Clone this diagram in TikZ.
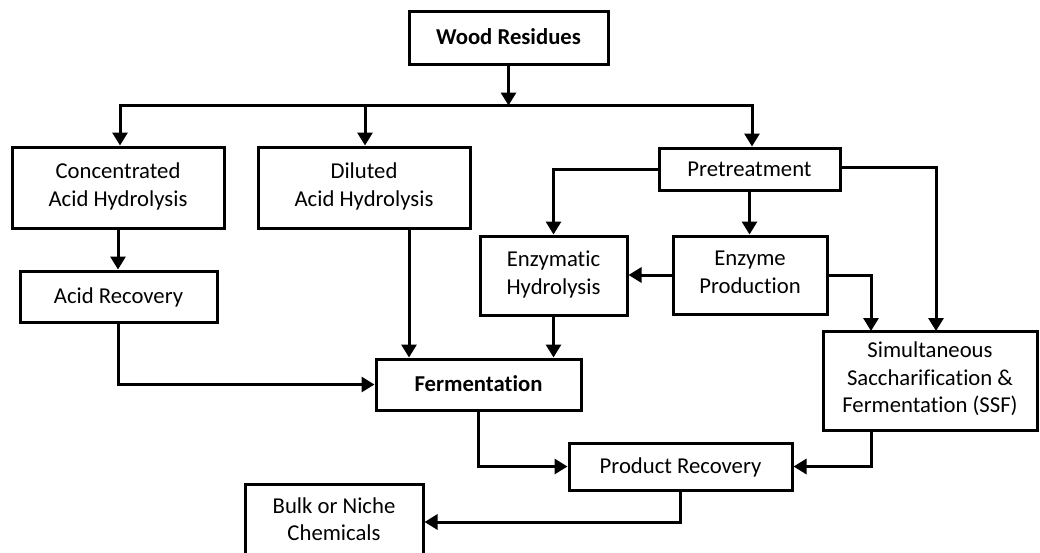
\documentclass[tikz,border=0pt]{standalone}
\usepackage{fontspec}
\setmainfont{Carlito}[Ligatures=NoCommon]
\usetikzlibrary{arrows.meta}
\newcommand{\toprule}{\rule{0pt}{20.5pt}}
\newcommand{\botrule}{\rule[-6pt]{0pt}{6pt}}
\tikzset{
  box/.style={draw, line width=3pt, rectangle, inner sep=0pt, align=center,
    font=\fontsize{22.7}{27.5}\selectfont,
    execute at begin node=\toprule, execute at end node=\botrule},
  boldbox/.style={box, font=\fontsize{22.7}{27.5}\selectfont\bfseries},
  arr/.style={line width=3pt, -{Triangle[length=13pt,width=15pt]}},
  bus/.style={line width=3pt}
}
\begin{document}
\begin{tikzpicture}[x=1pt,y=-1pt]
\useasboundingbox (0,0) rectangle (1040,552);

% process boxes
\node[boldbox, minimum width=199pt, minimum height=53pt] (wood) at (508.5,37.5) {Wood Residues};
\node[box, minimum width=212pt, minimum height=81pt] (conc) at (118,187.5) {Concentrated\\Acid Hydrolysis};
\node[box, minimum width=212pt, minimum height=81pt] (dil) at (364,187.5) {Diluted\\Acid Hydrolysis};
\node[box, minimum width=181pt, minimum height=42pt] (pre) at (749.5,169) {Pretreatment};
\node[box, minimum width=197pt, minimum height=51pt] (acid) at (118.5,296.5) {Acid Recovery};
\node[box, minimum width=147pt, minimum height=79pt] (enzh) at (553.5,275.5) {Enzymatic\\Hydrolysis};
\node[box, minimum width=154pt, minimum height=78pt] (enzp) at (750,275) {Enzyme\\Production};
\node[box, minimum width=214pt, minimum height=99pt] (ssf) at (930,380.5) {Simultaneous\\Saccharification \&\\Fermentation (SSF)};
\node[boldbox, minimum width=205pt, minimum height=51pt] (ferm) at (478.5,384.5) {Fermentation};
\node[box, minimum width=223pt, minimum height=47pt] (prod) at (680.5,466.5) {Product Recovery};
\node[box, minimum width=178pt, minimum height=76pt] (bulk) at (334,522) {Bulk or Niche\\Chemicals};

% distribution bus below the feedstock
\coordinate (busL) at (120,105.5);
\coordinate (busR) at (752,105.5);
\coordinate (busM) at (508.5,105.5);
\coordinate (busD) at (365,105.5);
\draw[bus] ([xshift=-1.5pt]busL) -- ([xshift=1.5pt]busR);
\draw[arr] (wood.south) -- (busM);
\draw[arr] (busL) -- (busL |- conc.north);
\draw[arr] (busD) -- (busD |- dil.north);
\draw[arr] (busR) -- (busR |- pre.north);

% acid routes
\draw[arr] (conc.south) -- (conc.south |- acid.north);
\draw[arr] (acid.south) |- (ferm.west);
\coordinate (dilout) at (409,228);
\draw[arr] (dilout) -- (dilout |- ferm.north);

% enzymatic route
\draw[arr] (pre.west) -| (enzh.north);
\draw[arr] (pre.south) -- (pre.south |- enzp.north);
\draw[arr] (enzp.west) -- (enzp.west -| enzh.east);
\coordinate (ssfinA) at (871,331);
\coordinate (ssfinB) at (936,331);
\draw[arr] (enzp.east) -| (ssfinA);
\coordinate (preout) at (840,167);
\draw[arr] (preout) -| (ssfinB);
\draw[arr] (enzh.south) -- (enzh.south |- ferm.north);

% product recovery
\draw[arr] (ferm.south) |- (prod.west);
\coordinate (ssfout) at (871,430);
\draw[arr] (ssfout) |- (prod.east);
\draw[arr] (prod.south) |- (bulk.east);
\end{tikzpicture}
\end{document}
